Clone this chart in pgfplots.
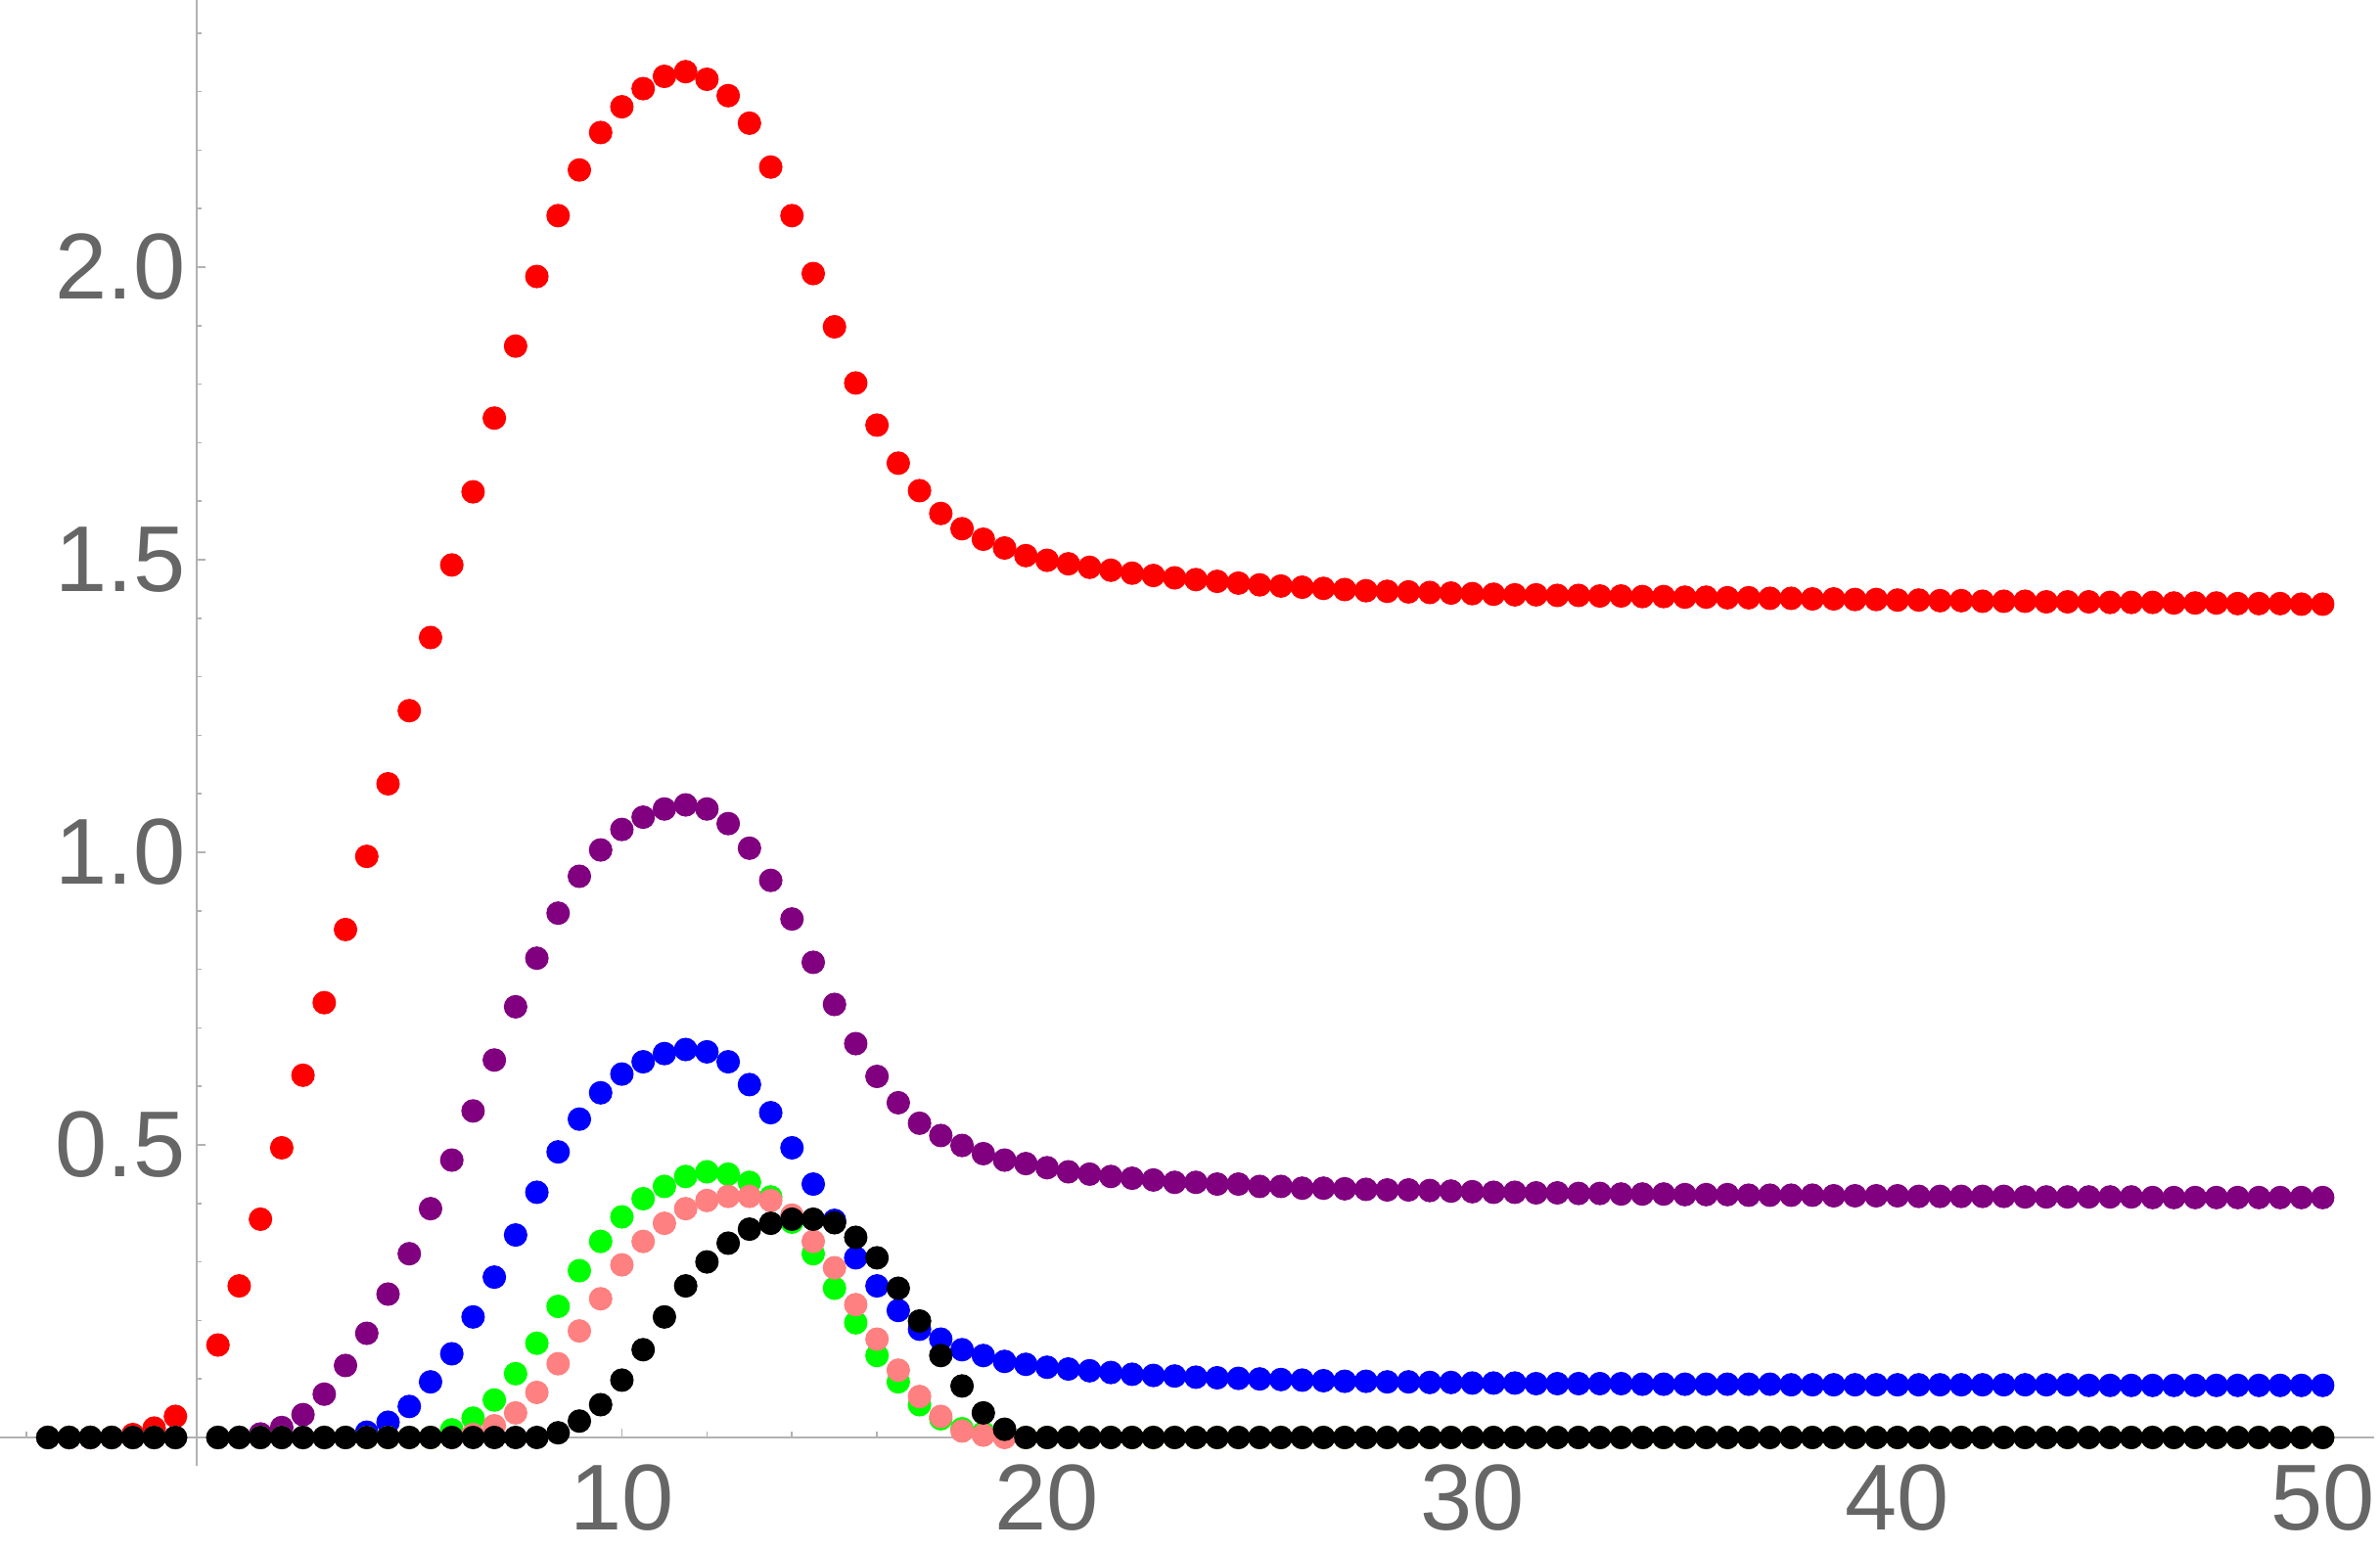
\documentclass[border=0pt]{standalone}
\usepackage{fontspec}
\setmainfont{Liberation Sans}
\usepackage{pgfplots}
\usepackage{pgfplotstable}
\pgfplotsset{compat=1.18}
\definecolor{axisgray}{RGB}{178,178,178}
\definecolor{tickgray}{RGB}{102,102,102}
\definecolor{mpurple}{RGB}{128,0,128}
\definecolor{mpink}{RGB}{255,128,128}
\definecolor{mgreen}{RGB}{0,255,0}
\pgfplotstableread{
x red purple blue green pink black
-3.5 0 0 0 0 0 0
-3 0 0 0 0 0 0
-2.5 0 0 0 0 0 0
-2 0 0 0 0 0 0
-1.5 0.005 0 0 0 0 0
-1 0.016 0 0 0 0 0
-0.5 0.036 0 0 0 0 0
0.5 0.158 0 0 0 0 0
1 0.259 0 0 0 0 0
1.5 0.373 0.006 0 0 0 0
2 0.495 0.017 0 0 0 0
2.5 0.619 0.039 0 0 0 0
3 0.743 0.074 0 0 0 0
3.5 0.868 0.123 0 0 0 0
4 0.993 0.178 0.009 0 0 0
4.5 1.117 0.245 0.026 0 0 0
5 1.242 0.314 0.053 0 0 0
5.5 1.367 0.391 0.095 0 0 0
6 1.491 0.474 0.143 0.013 0 0
6.5 1.616 0.558 0.206 0.033 0.005 0
7 1.742 0.645 0.274 0.064 0.020 0
7.5 1.865 0.736 0.346 0.109 0.042 0
8 1.984 0.819 0.419 0.161 0.077 0
8.5 2.088 0.896 0.488 0.224 0.126 0.008
9 2.166 0.959 0.544 0.285 0.182 0.028
9.5 2.230 1.004 0.589 0.335 0.237 0.056
10 2.274 1.039 0.621 0.377 0.295 0.098
10.5 2.305 1.060 0.642 0.408 0.335 0.150
11 2.326 1.074 0.656 0.429 0.366 0.206
11.5 2.334 1.081 0.663 0.446 0.391 0.259
12 2.321 1.074 0.659 0.454 0.405 0.300
12.5 2.293 1.049 0.642 0.450 0.412 0.332
13 2.246 1.007 0.603 0.436 0.412 0.356
13.5 2.171 0.952 0.555 0.411 0.405 0.366
14 2.088 0.886 0.495 0.368 0.380 0.373
14.5 1.989 0.812 0.433 0.314 0.335 0.373
15 1.898 0.740 0.371 0.255 0.290 0.367
15.5 1.802 0.673 0.307 0.196 0.227 0.342
16 1.730 0.617 0.259 0.140 0.168 0.307
16.5 1.665 0.572 0.217 0.095 0.115 0.255
17 1.618 0.537 0.185 0.056 0.070 0.199
17.5 1.579 0.516 0.168 0.032 0.036 0.140
18 1.553 0.499 0.150 0.015 0.011 0.088
18.5 1.535 0.485 0.140 0.008 0.004 0.042
19 1.520 0.474 0.130 0.002 0 0.014
19.5 1.507 0.468 0.125 0 0 0
20 1.499 0.461 0.120 0 0 0
20.5 1.493 0.454 0.117 0 0 0
21 1.487 0.450 0.114 0 0 0
21.5 1.482 0.446 0.111 0 0 0
22 1.477 0.443 0.108 0 0 0
22.5 1.473 0.440 0.106 0 0 0
23 1.469 0.436 0.105 0 0 0
23.5 1.466 0.436 0.103 0 0 0
24 1.463 0.433 0.102 0 0 0
24.5 1.460 0.433 0.101 0 0 0
25 1.457 0.429 0.100 0 0 0
25.5 1.455 0.429 0.099 0 0 0
26 1.453 0.426 0.098 0 0 0
26.5 1.451 0.426 0.097 0 0 0
27 1.449 0.425 0.096 0 0 0
27.5 1.447 0.424 0.096 0 0 0
28 1.446 0.423 0.095 0 0 0
28.5 1.445 0.423 0.095 0 0 0
29 1.444 0.422 0.094 0 0 0
29.5 1.443 0.421 0.094 0 0 0
30 1.442 0.420 0.093 0 0 0
30.5 1.441 0.419 0.093 0 0 0
31 1.440 0.419 0.093 0 0 0
31.5 1.440 0.418 0.092 0 0 0
32 1.439 0.418 0.092 0 0 0
32.5 1.439 0.417 0.092 0 0 0
33 1.438 0.417 0.092 0 0 0
33.5 1.438 0.416 0.092 0 0 0
34 1.437 0.416 0.091 0 0 0
34.5 1.437 0.416 0.091 0 0 0
35 1.436 0.415 0.091 0 0 0
35.5 1.436 0.415 0.091 0 0 0
36 1.435 0.415 0.091 0 0 0
36.5 1.435 0.414 0.091 0 0 0
37 1.434 0.414 0.091 0 0 0
37.5 1.434 0.414 0.090 0 0 0
38 1.433 0.414 0.090 0 0 0
38.5 1.433 0.413 0.090 0 0 0
39 1.432 0.413 0.090 0 0 0
39.5 1.432 0.413 0.090 0 0 0
40 1.431 0.413 0.090 0 0 0
40.5 1.431 0.412 0.090 0 0 0
41 1.430 0.412 0.090 0 0 0
41.5 1.430 0.412 0.090 0 0 0
42 1.429 0.412 0.090 0 0 0
42.5 1.429 0.412 0.090 0 0 0
43 1.429 0.411 0.090 0 0 0
43.5 1.428 0.411 0.090 0 0 0
44 1.428 0.411 0.090 0 0 0
44.5 1.428 0.411 0.089 0 0 0
45 1.427 0.411 0.089 0 0 0
45.5 1.427 0.411 0.089 0 0 0
46 1.427 0.410 0.089 0 0 0
46.5 1.426 0.410 0.089 0 0 0
47 1.426 0.410 0.089 0 0 0
47.5 1.426 0.410 0.089 0 0 0
48 1.425 0.410 0.089 0 0 0
48.5 1.425 0.410 0.089 0 0 0
49 1.425 0.410 0.089 0 0 0
49.5 1.424 0.410 0.089 0 0 0
50 1.424 0.410 0.089 0 0 0
}\datatable
\begin{document}
\begin{tikzpicture}
\useasboundingbox (0,-8.6mm) rectangle (243.2mm,149.8mm);
\begin{axis}[
  at={(0,0)}, anchor=south west,
  scale only axis,
  width=242.6mm, height=149.8mm,
  xmin=-4.626, xmax=51.21,
  ymin=-0.0485, ymax=2.4565,
  enlargelimits=false,
  axis lines=middle,
  axis line style={-, draw=axisgray, line width=0.45pt},
  every inner x axis line/.append style={-},
  every inner y axis line/.append style={-},
  tick style={draw=axisgray, line width=0.45pt},
  tick align=inside,
  major tick length=0.9mm,
  minor tick length=0.55mm,
  xtick={10,20,30,40,50},
  xticklabels={10,20,30,40,50},
  minor xtick={-4,-2,2,4,6,8,12,14,16,18,22,24,26,28,32,34,36,38,42,44,46,48},
  ytick={0.5,1.0,1.5,2.0},
  yticklabels={0.5,1.0,1.5,2.0},
  minor ytick={0.1,0.2,0.3,0.4,0.6,0.7,0.8,0.9,1.1,1.2,1.3,1.4,1.6,1.7,1.8,1.9,2.1,2.2,2.3,2.4},
  ticklabel style={font=\fontsize{27.2}{30}\selectfont, text=tickgray, inner sep=0pt},
  xticklabel style={anchor=north, yshift=-2.7mm},
  yticklabel style={anchor=east, xshift=-1.1mm},
  clip=false,
  every axis plot/.append style={only marks, mark=*, mark size=1.15mm, line width=0.3pt},
]
\addplot[color=red] table[x=x, y=red] {\datatable};
\addplot[color=mpurple] table[x=x, y=purple] {\datatable};
\addplot[color=blue] table[x=x, y=blue] {\datatable};
\addplot[color=mgreen] table[x=x, y=green] {\datatable};
\addplot[color=mpink] table[x=x, y=pink] {\datatable};
\addplot[color=black] table[x=x, y=black] {\datatable};
\end{axis}
\end{tikzpicture}
\end{document}
